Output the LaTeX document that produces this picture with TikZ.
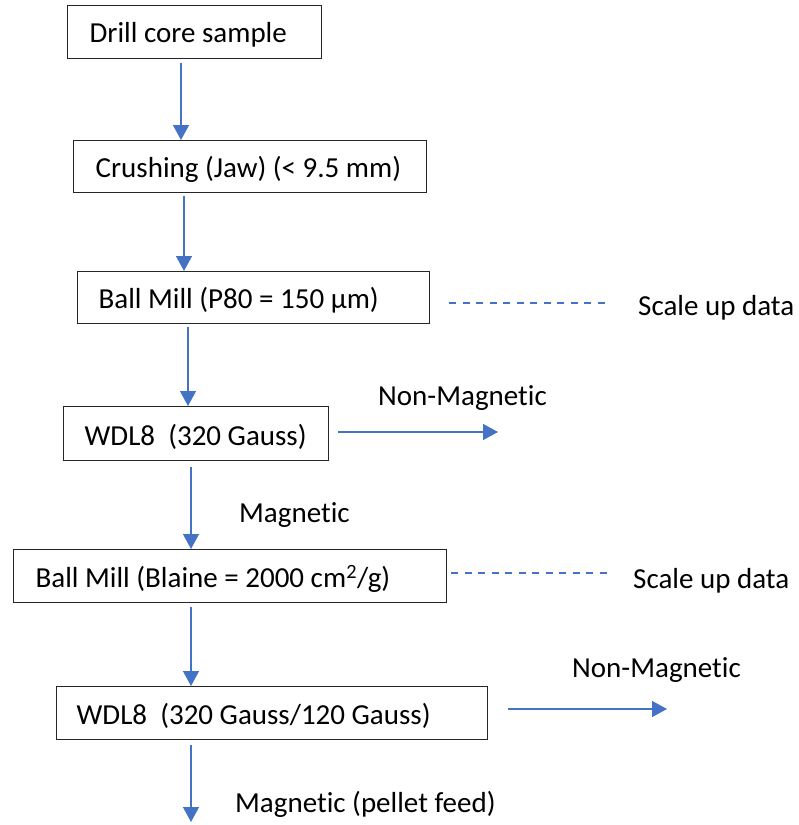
\documentclass[tikz,border=0pt]{standalone}
\usepackage{fontspec}
\setmainfont[RawFeature={-liga;-calt;-clig;-dlig}]{Carlito}
\usetikzlibrary{arrows.meta}
\definecolor{flowblue}{HTML}{4472C4}
% fixed-size box text, left padded and set slightly low
\newcommand\padtext[3]{\makebox[#1pt][l]{\hspace{#2pt}\raisebox{-3pt}[\height][\depth]{#3}}}
\tikzset{
  stage/.style={draw=black!85, line width=1.3pt, inner xsep=0pt, inner ysep=0pt,
    anchor=north west, font=\fontsize{29}{34}\selectfont},
  flow/.style={draw=flowblue, line width=1.3pt, -{Triangle[width=16pt,length=15pt]}},
  scaleline/.style={draw=flowblue, line width=1.3pt, dash pattern=on 7pt off 6.5pt},
  note/.style={anchor=west, inner sep=0pt, font=\fontsize{29}{34}\selectfont}
}
\begin{document}
\begin{tikzpicture}[x=1pt,y=-1pt]
\useasboundingbox (0,0) rectangle (799,825);

% process stages
\node[stage, minimum height=53pt] (b1) at (67,5)   {\padtext{254}{22}{Drill core sample}};
\node[stage, minimum height=52pt] (b2) at (73,140) {\padtext{353}{22}{Crushing (Jaw) (< 9.5 mm)}};
\node[stage, minimum height=52pt] (b3) at (77,271) {\padtext{352}{21}{Ball Mill (P80 = 150 µm)}};
\node[stage, minimum height=54pt] (b4) at (63,406) {\padtext{265}{21}{WDL8\ \ (320 Gauss)}};
\node[stage, minimum height=53pt] (b5) at (13,549) {\padtext{433}{22}{Ball Mill (Blaine = 2000 cm\textsuperscript{2}/g)}};
\node[stage, minimum height=53pt] (b6) at (56,686) {\padtext{431}{20}{WDL8\ \ (320 Gauss/120 Gauss)}};

% main flow
\coordinate (s1) at (181,63);
\coordinate (s2) at (184,196);
\coordinate (s3) at (188,327);
\coordinate (s4) at (191,467);
\coordinate (s5) at (191,607);
\coordinate (s6) at (191,745);
\coordinate (e6) at (191,822);
\draw[flow] (s1) -- (s1 |- b2.north);
\draw[flow] (s2) -- (s2 |- b3.north);
\draw[flow] (s3) -- (s3 |- b4.north);
\draw[flow] (s4) -- (s4 |- b5.north);
\draw[flow] (s5) -- (s5 |- b6.north);
\draw[flow] (s6) -- (e6);

% non-magnetic rejects
\coordinate (n1) at (498,432);
\coordinate (n2) at (667,709);
\draw[flow] ([xshift=9pt]b4.east |- n1) -- (n1);
\draw[flow] ([xshift=20pt]b6.east |- n2) -- (n2);

% scale up links
\coordinate (d1) at (610,303);
\coordinate (d2) at (612,573);
\draw[scaleline] ([xshift=19pt]b3.east |- d1) -- (d1);
\draw[scaleline] ([xshift=4pt]b5.east |- d2) -- (d2);

% labels
\node[note] (t1) at (638,308) {Scale up data};
\node[note] (t2) at (633,581) {Scale up data};
\node[note] (t3) at (378,398) {Non-Magnetic};
\node[note] (t4) at (572,670) {Non-Magnetic};
\node[note] (t5) at (239,515) {Magnetic};
\node[note] (t6) at (235,804) {Magnetic (pellet feed)};
\end{tikzpicture}
\end{document}
